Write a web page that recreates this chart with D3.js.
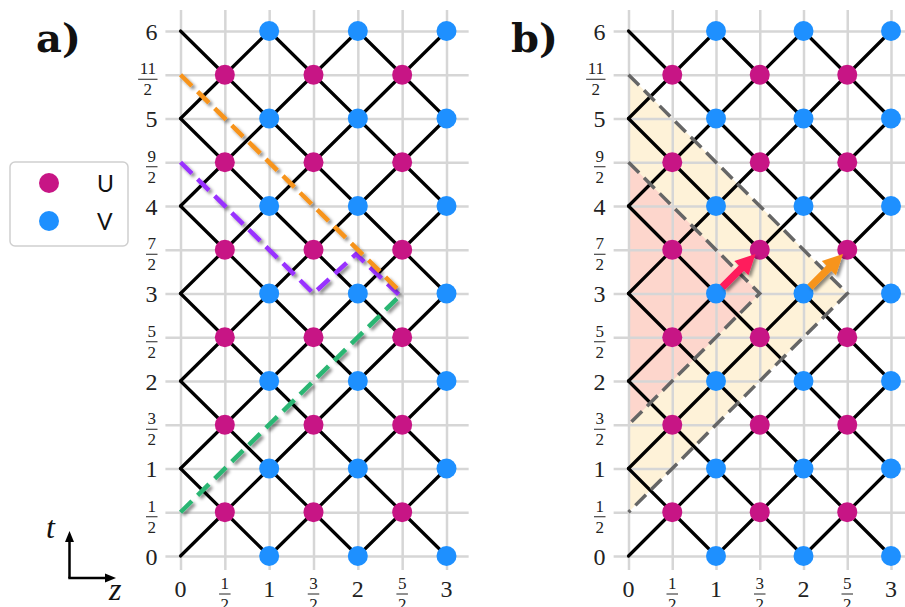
<!DOCTYPE html>
<html><head><meta charset="utf-8">
<script src="https://cdn.jsdelivr.net/npm/d3@7"></script>
<style>
html,body{margin:0;padding:0;background:#fff;}
svg{display:block;}
</style></head>
<body>
<svg id="chart" width="905" height="607"></svg>
<script>
// ---------- data ----------
const zTickVals = [0, 0.5, 1, 1.5, 2, 2.5, 3];
const zTickLabels = ["0", "1/2", "1", "3/2", "2", "5/2", "3"];
const tTickVals = [0, 0.5, 1, 1.5, 2, 2.5, 3, 3.5, 4, 4.5, 5, 5.5, 6];
const tTickLabels = ["0", "1/2", "1", "3/2", "2", "5/2", "3", "7/2", "4", "9/2", "5", "11/2", "6"];

const uZ = [0.5, 1.5, 2.5];
const uT = [0.5, 1.5, 2.5, 3.5, 4.5, 5.5];
const vZ = [1, 2, 3];
const vT = [0, 1, 2, 3, 4, 5, 6];
const wallZ = [0];
const wallT = [0, 1, 2, 3, 4, 5, 6];

const legendNames = ["U", "V"];

// panel a dashed paths
const greenPath = [[0, 0.5], [2.47, 2.97]];
const purplePath = [[0, 4.5], [1.5, 3], [1.98, 3.45], [2.46, 2.99]];
const orangePath = [[0, 5.5], [2.5, 3]];

// panel b regions and arrows
const outerRegion = [[0, 5.5], [2.5, 3], [0, 0.5]];
const innerRegion = [[0, 4.5], [1.5, 3], [0, 1.5]];
const redArrow = [[1, 3], [1.5, 3.5]];
const orangeArrow = [[2, 3], [2.5, 3.5]];

// ---------- styles ----------
const C = {
  U: "#c71585", V: "#1e90ff", grid: "#d6d6d6",
  orange: "#f7941d", purple: "#9933ff", green: "#2bb673",
  gray: "#666666", yellow: "#fef2d8", pink: "#fdd6cc",
  redArrow: "#ff1a5c", orangeArrow: "#f7941d"
};

const svg = d3.select("#chart");
const defs = svg.append("defs");
const f = defs.append("filter").attr("id", "shadow")
  .attr("filterUnits", "userSpaceOnUse")
  .attr("x", 0).attr("y", 0).attr("width", 905).attr("height", 607);
f.append("feDropShadow").attr("dx", 2.5).attr("dy", 2.5)
  .attr("stdDeviation", 1.8).attr("flood-color", "#000").attr("flood-opacity", 0.45);

// nodes
function nodes(zs, ts, type) {
  const out = [];
  zs.forEach(z => ts.forEach(t => out.push({z, t, type})));
  return out;
}
const uNodes = nodes(uZ, uT, "U");
const vNodes = nodes(vZ, vT, "V");
const wNodes = nodes(wallZ, wallT, "W");
const allNodes = uNodes.concat(vNodes, wNodes);
const key = (z, t) => z.toFixed(2) + "_" + t.toFixed(2);
const nodeSet = new Set(allNodes.map(n => key(n.z, n.t)));
const edges = [];
allNodes.forEach(n => {
  [0.5, -0.5].forEach(dt => {
    if (nodeSet.has(key(n.z + 0.5, n.t + dt))) edges.push([[n.z, n.t], [n.z + 0.5, n.t + dt]]);
  });
});

function panel(xRange, opts) {
  const sx = d3.scaleLinear().domain([0, 3]).range(xRange);
  const sy = d3.scaleLinear().domain([0, 6]).range([556, 31]);
  const g = svg.append("g");
  const line = d3.line().x(d => sx(d[0])).y(d => sy(d[1]));

  if (opts.regions) {
    g.append("path").attr("d", line(outerRegion) + "Z").attr("fill", C.yellow);
    g.append("path").attr("d", line(innerRegion) + "Z").attr("fill", C.pink);
  }

  // grid via axes
  const gx0 = sx(-0.17), gx1 = sx(3.25);
  const gy0 = sy(-0.16), gy1 = sy(6.24);
  const yAxis = d3.axisLeft(sy).tickValues(tTickVals).tickFormat("").tickSize(-(gx1 - gx0)).tickSizeOuter(0);
  const xAxis = d3.axisBottom(sx).tickValues(zTickVals).tickFormat("").tickSize(-(gy0 - gy1)).tickSizeOuter(0);
  const ga = g.append("g").attr("transform", `translate(${gx0},0)`).call(yAxis);
  const gb = g.append("g").attr("transform", `translate(0,${gy0})`).call(xAxis);
  [ga, gb].forEach(a => {
    a.select(".domain").remove();
    a.selectAll(".tick line").attr("stroke", C.grid).attr("stroke-width", 2.5);
  });

  // tick labels
  const labelFont = "Liberation Serif, DejaVu Serif, serif";
  function frac(x, yBar, num, den, anchor) {
    const gg = g.append("g").attr("fill", "#222");
    const tn = gg.append("text").text(num).attr("font-size", 17).attr("font-family", labelFont).attr("text-anchor", "middle");
    const td = gg.append("text").text(den).attr("font-size", 17).attr("font-family", labelFont).attr("text-anchor", "middle");
    const w = Math.max(tn.node().getComputedTextLength(), td.node().getComputedTextLength()) + 3;
    const cx = anchor === "end" ? x - w / 2 : x;
    tn.attr("x", cx).attr("y", yBar - 5);
    td.attr("x", cx).attr("y", yBar + 16);
    gg.append("line").attr("x1", cx - w / 2).attr("x2", cx + w / 2).attr("y1", yBar).attr("y2", yBar)
      .attr("stroke", "#222").attr("stroke-width", 1);
  }
  const rightEdge = sx(0) - 23;
  tTickVals.forEach((v, i) => {
    const lab = tTickLabels[i];
    if (lab.includes("/")) {
      const [n, d] = lab.split("/");
      frac(rightEdge, sy(v) + 4.5, n, d, "end");
    } else {
      g.append("text").text(lab).attr("x", rightEdge).attr("y", sy(v) + 8.5)
        .attr("text-anchor", "end").attr("font-size", 24).attr("font-family", labelFont).attr("fill", "#222");
    }
  });
  zTickVals.forEach((v, i) => {
    const lab = zTickLabels[i];
    if (lab.includes("/")) {
      const [n, d] = lab.split("/");
      frac(sx(v), 594, n, d, "middle");
    } else {
      g.append("text").text(lab).attr("x", sx(v)).attr("y", 597)
        .attr("text-anchor", "middle").attr("font-size", 24).attr("font-family", labelFont).attr("fill", "#222");
    }
  });

  // lattice lines
  g.append("g").selectAll("path").data(edges).join("path")
    .attr("d", d => line(d)).attr("stroke", "#000").attr("stroke-width", 3.2)
    .attr("stroke-linecap", "round").attr("fill", "none");

  // dots
  g.append("g").selectAll("circle").data(uNodes.concat(vNodes)).join("circle")
    .attr("cx", d => sx(d.z)).attr("cy", d => sy(d.t)).attr("r", 10)
    .attr("fill", d => C[d.type]);

  if (opts.dashedA) {
    [[greenPath, C.green], [purplePath, C.purple], [orangePath, C.orange]].forEach(([p, col]) => {
      g.append("path").attr("d", line(p)).attr("fill", "none").attr("stroke", col)
        .attr("stroke-width", 4.5).attr("stroke-dasharray", "16,8").attr("filter", "url(#shadow)");
    });
  }
  if (opts.regions) {
    [outerRegion, innerRegion].forEach(p => {
      g.append("path").attr("d", line(p)).attr("fill", "none").attr("stroke", C.gray)
        .attr("stroke-width", 3.5).attr("stroke-dasharray", "15,7");
    });
    [[redArrow, C.redArrow], [orangeArrow, C.orangeArrow]].forEach(([a, col]) => {
      const x0 = sx(a[0][0]), y0 = sy(a[0][1]), x1 = sx(a[1][0]), y1 = sy(a[1][1]);
      const len = Math.hypot(x1 - x0, y1 - y0);
      const ux = (x1 - x0) / len, uy = (y1 - y0) / len;
      const px = -uy, py = ux;
      const s0 = 9, s1 = 6, L = 20, H = 10, w = 3.6;
      const ax = x0 + ux * s0, ay = y0 + uy * s0;
      const tx = x1 - ux * s1, ty = y1 - uy * s1;
      const bx = tx - ux * L, by = ty - uy * L;
      const pts = [
        [ax + px * w, ay + py * w], [bx + px * w, by + py * w], [bx + px * H, by + py * H],
        [tx, ty], [bx - px * H, by - py * H], [bx - px * w, by - py * w], [ax - px * w, ay - py * w]
      ];
      g.append("path").attr("d", "M" + pts.map(p => p.join(",")).join("L") + "Z")
        .attr("fill", col).attr("filter", "url(#shadow)");
    });
  }

  g.append("text").text(opts.label).attr("x", opts.labelX).attr("y", 52)
    .attr("font-size", 40).attr("font-weight", "bold").attr("font-family", "DejaVu Serif, serif").attr("fill", "#111");
  return g;
}

panel([180.5, 446.5], {dashedA: true, label: "a)", labelX: 36});
panel([628.5, 891], {regions: true, label: "b)", labelX: 511});

// legend
const lg = svg.append("g");
lg.append("rect").attr("x", 10).attr("y", 162).attr("width", 118).attr("height", 84).attr("rx", 5)
  .attr("fill", "#fff").attr("stroke", "#cfcfcf").attr("stroke-width", 1.5);
legendNames.forEach((n, i) => {
  const y = 183 + i * 38;
  lg.append("circle").attr("cx", 49).attr("cy", y).attr("r", 10).attr("fill", C[n]);
  lg.append("text").text(n).attr("x", 97).attr("y", y + 8.5).attr("font-size", 23)
    .attr("font-family", "Lato, Open Sans, sans-serif").attr("fill", "#111");
});

// axis indicator
const ai = svg.append("g").attr("stroke", "#000").attr("fill", "#000");
ai.append("line").attr("x1", 69.5).attr("y1", 578).attr("x2", 69.5).attr("y2", 540).attr("stroke-width", 2.5);
ai.append("line").attr("x1", 68.3).attr("y1", 578).attr("x2", 107).attr("y2", 578).attr("stroke-width", 2.5);
ai.append("path").attr("d", "M69.5,531 L65,542 L74,542 Z").attr("stroke", "none");
ai.append("path").attr("d", "M116,578 L105,573.5 L105,582.5 Z").attr("stroke", "none");
svg.append("text").text("t").attr("x", 46).attr("y", 538).attr("font-size", 32).attr("font-style", "italic")
  .attr("font-family", "Liberation Serif, serif").attr("fill", "#111");
svg.append("text").text("z").attr("x", 109).attr("y", 600).attr("font-size", 32).attr("font-style", "italic")
  .attr("font-family", "Liberation Serif, serif").attr("fill", "#111");
</script>
</body></html>
